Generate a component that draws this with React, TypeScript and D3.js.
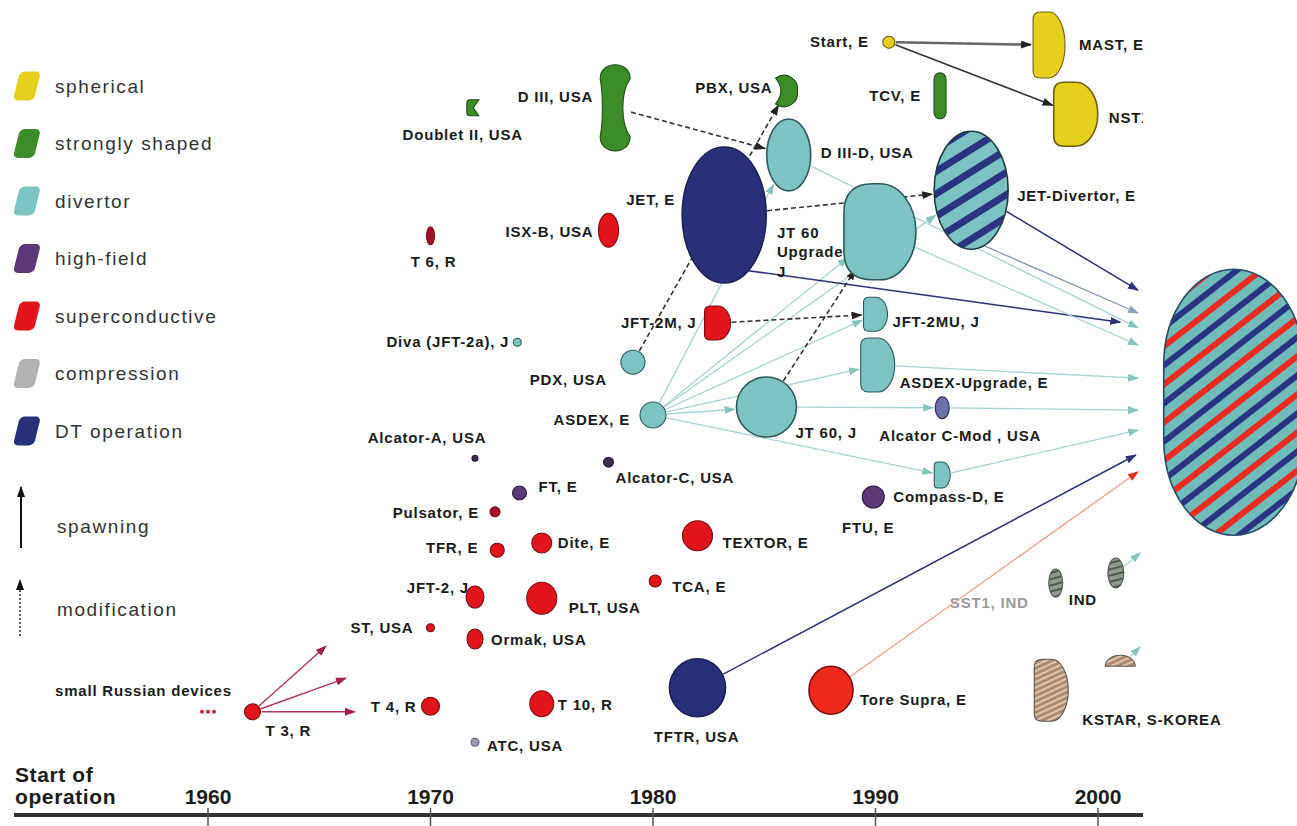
import * as d3 from 'd3'

// device tuples: [id, label, start year, vertical level (0 = time axis, 100 = top)]
type Dev = [string, string, number, number]

const axisYears = [1960, 1970, 1980, 1990, 2000]
const axisTitle = ['Start of', 'operation']

const legendLabels = ['spherical', 'strongly shaped', 'divertor', 'high-field', 'superconductive', 'compression', 'DT operation']
const legendTypes = ['spherical', 'shaped', 'divertor', 'highfield', 'supercond', 'compression', 'dt']

const sphericalDevices: Dev[] = [
  ['start', 'Start, E', 1990.6, 96.6],
  ['mast', 'MAST, E', 1997.8, 96.25],
  ['nstx', 'NSTX, USA', 1999.0, 87.6],
]

const shapedDevices: Dev[] = [
  ['doublet2', 'Doublet II, USA', 1971.9, 88.4],
  ['d3', 'D III, USA', 1978.3, 88.4],
  ['pbx', 'PBX, USA', 1986.0, 90.5],
  ['tcv', 'TCV, E', 1992.9, 89.9],
]

const divertorDevices: Dev[] = [
  ['diva', 'Diva (JFT-2a), J', 1973.9, 59.1],
  ['pdx', 'PDX, USA', 1979.1, 56.6],
  ['asdex', 'ASDEX, E', 1980.0, 50.0],
  ['jt60', 'JT 60, J', 1985.1, 51.0],
  ['d3d', 'D III-D, USA', 1986.1, 82.5],
  ['jt60u', 'JT 60|Upgrade|J', 1990.2, 72.9],
  ['jft2mu', 'JFT-2MU, J', 1990.0, 62.6],
  ['asdexu', 'ASDEX-Upgrade, E', 1990.1, 56.25],
  ['compassd', 'Compass-D, E', 1993.0, 42.5],
]

const highFieldDevices: Dev[] = [
  ['alcA', 'Alcator-A, USA', 1972.0, 44.6],
  ['ft', 'FT,  E', 1974.0, 40.25],
  ['alcC', 'Alcator-C, USA', 1978.0, 44.1],
  ['ftu', 'FTU, E', 1989.9, 39.75],
  ['cmod', 'Alcator C-Mod , USA', 1993.0, 50.9],
]

const redDevices: Dev[] = [
  ['t3', 'T 3, R', 1962.0, 12.9],
  ['t4', 'T 4, R', 1970.0, 13.6],
  ['t6', 'T 6, R', 1970.0, 72.4],
  ['st', 'ST, USA', 1970.0, 23.4],
  ['ormak', 'Ormak, USA', 1972.0, 22.0],
  ['jft2', 'JFT-2, J', 1972.0, 27.25],
  ['pulsator', 'Pulsator, E', 1972.9, 37.9],
  ['tfr', 'TFR, E', 1973.0, 33.1],
  ['dite', 'Dite, E', 1975.0, 34.0],
  ['plt', 'PLT, USA', 1975.0, 27.1],
  ['t10', 'T 10, R', 1975.0, 13.9],
  ['isxb', 'ISX-B, USA', 1978.0, 73.1],
  ['tca', 'TCA, E', 1980.1, 29.25],
  ['textor', 'TEXTOR, E', 1982.0, 34.9],
  ['jft2m', 'JFT-2M, J', 1982.9, 61.5],
  ['toresupra', 'Tore Supra, E', 1988.0, 15.6],
]

const compressionDevices: Dev[] = [
  ['atc', 'ATC, USA', 1972.0, 9.1],
]

const dtDevices: Dev[] = [
  ['tftr', 'TFTR, USA', 1982.0, 15.9],
  ['jet', 'JET, E', 1983.2, 75.0],
  ['jetdiv', 'JET-Divertor, E', 1994.3, 78.1],
]

const newerDevices: Dev[] = [
  ['sst1', 'SST1, IND', 1998.1, 29.0],
  ['kstar', 'KSTAR, S-KOREA', 1997.9, 15.6],
  ['grey2', '', 2000.8, 30.25],
  ['brown2', '', 2001.0, 18.6],
  ['iter', '', 2006.1, 51.6],
  ['russian', 'small Russian devices', 1960.0, 12.9],
]

// spawning (solid) and modification (dashed) links between devices
const spawnLinks: [string, string, string][] = [
  ['start', 'mast', 'grey'],
  ['start', 'nstx', 'dark'],
  ['asdex', 'd3d', 'cyan'],
  ['asdex', 'jt60u', 'cyan'],
  ['asdex', 'jetdiv', 'cyan'],
  ['asdex', 'jft2mu', 'cyan'],
  ['asdex', 'asdexu', 'cyan'],
  ['asdex', 'jt60', 'cyan'],
  ['asdex', 'compassd', 'cyan'],
  ['jt60', 'cmod', 'cyan'],
]

const modLinks: [string, string][] = [
  ['d3', 'd3d'],
  ['pdx', 'pbx'],
  ['jet', 'jetdiv'],
  ['jft2m', 'jft2mu'],
  ['jt60', 'jt60u'],
]

// links ending at a point: [from, year, level, colour, optional exit angle]
const pointLinks: [string, number, number, string, number?][] = [
  ['t3', 1965.3, 21.1, 'maroon'],
  ['t3', 1966.2, 17.1, 'maroon'],
  ['t3', 1966.6, 12.9, 'maroon'],
  ['jetdiv', 2001.8, 65.6, 'navy'],
  ['jetdiv', 2001.8, 62.75, 'slate', 70],
  ['jet', 2001.0, 61.6, 'navy', 55],
  ['d3d', 2001.8, 60.9, 'cyan'],
  ['jt60u', 2001.8, 58.75, 'cyan'],
  ['asdexu', 2001.8, 54.6, 'cyan'],
  ['cmod', 2001.8, 50.6, 'cyan'],
  ['compassd', 2001.8, 48.1, 'cyan'],
  ['tftr', 2001.7, 45.0, 'navy'],
  ['toresupra', 2001.8, 42.9, 'red'],
  ['grey2', 2001.9, 32.75, 'cyan'],
  ['brown2', 2001.9, 21.0, 'cyan'],
]

// ---- layout / style (not data) ----
const shapeLayout: Record<string, [string, number, number]> = {
  start: ['ellipse', 6, 6], mast: ['dee', 16, 33], nstx: ['dee', 22, 32],
  doublet2: ['cshape', 6, 8], d3: ['bone', 15, 44], pbx: ['crescent', 11, 16], tcv: ['pill', 6, 23],
  diva: ['ellipse', 4, 4], pdx: ['ellipse', 12, 12], asdex: ['ellipse', 13, 13], jt60: ['ellipse', 30, 30],
  d3d: ['ellipse', 22, 36], jt60u: ['dee', 36, 48], jft2mu: ['dee', 12, 17], asdexu: ['dee', 17, 27],
  compassd: ['dee', 8, 13],
  alcA: ['ellipse', 3, 3], ft: ['ellipse', 7, 7], alcC: ['ellipse', 5, 5], ftu: ['ellipse', 11, 11],
  cmod: ['ellipse', 7, 11],
  t3: ['ellipse', 8, 8], t4: ['ellipse', 9, 9], t6: ['ellipse', 4, 9], st: ['ellipse', 4, 4],
  ormak: ['ellipse', 8, 10], jft2: ['ellipse', 9, 11], pulsator: ['ellipse', 5, 5], tfr: ['ellipse', 7, 7],
  dite: ['ellipse', 10, 10], plt: ['ellipse', 15, 16], t10: ['ellipse', 12, 13], isxb: ['ellipse', 10, 17],
  tca: ['ellipse', 6, 6], textor: ['ellipse', 15, 15], jft2m: ['dee', 13, 17], toresupra: ['ellipse', 22, 24],
  atc: ['ellipse', 4, 4],
  tftr: ['ellipse', 28, 29], jet: ['ellipse', 42, 68], jetdiv: ['ellipse', 37, 59],
  sst1: ['ellipse', 7, 14], kstar: ['dee', 17, 31], grey2: ['ellipse', 8, 15], brown2: ['cap', 15, 11],
  iter: ['stadium', 70, 133], russian: ['dots', 2, 2],
}

const labelLayout: Record<string, [number, number, string]> = {
  start: [-20, 0, 'end'], mast: [30, 0, 'start'], nstx: [33, 4, 'start'],
  doublet2: [-10, 27, 'middle'], d3: [-22, -11, 'end'], pbx: [-14, -3, 'end'], tcv: [-19, 0, 'end'],
  diva: [-8, 0, 'end'], pdx: [-26, 18, 'end'], asdex: [-23, 5, 'end'], jt60: [29, 26, 'start'],
  d3d: [32, -2, 'start'], jt60u: [-103, 1, 'start'], jft2mu: [17, 8, 'start'], asdexu: [22, 18, 'start'],
  compassd: [-49, 22, 'start'],
  alcA: [-48, -20, 'middle'], ft: [19, -6, 'start'], alcC: [7, 16, 'start'], ftu: [-5, 31, 'middle'],
  cmod: [-63, 28, 'start'],
  t3: [13, 19, 'start'], t4: [-14, 1, 'end'], t6: [3, 26, 'middle'], st: [-17, 0, 'end'],
  ormak: [16, 1, 'start'], jft2: [-6, -9, 'end'], pulsator: [-16, 1, 'end'], tfr: [-19, -2, 'end'],
  dite: [16, 0, 'start'], plt: [27, 10, 'start'], t10: [16, 1, 'start'], isxb: [-15, 2, 'end'],
  tca: [17, 6, 'start'], textor: [25, 7, 'start'], jft2m: [-21, 0, 'end'], toresupra: [29, 10, 'start'],
  atc: [12, 4, 'start'],
  tftr: [-1, 49, 'middle'], jet: [-49, -15, 'end'], jetdiv: [46, 6, 'start'],
  sst1: [-27, 20, 'end'], kstar: [31, 30, 'start'], russian: [-153, -21, 'start'],
}

const typeFill: Record<string, string> = {
  spherical: '#e6d01e', shaped: '#3d8c2a', divertor: '#7dc3c2', highfield: '#5b3977',
  supercond: '#e2141c', compression: '#b2b2b2', dt: '#283079', newer: '#a0a0a0',
}
const typeStroke: Record<string, string> = {
  spherical: '#6e6010', shaped: '#1f4d14', divertor: '#2c5a5c', highfield: '#2e1a40',
  supercond: '#7a0a12', compression: '#666', dt: '#1a1f55', newer: '#555',
}
const fillOverride: Record<string, string> = {
  jetdiv: 'url(#jetdivPat)', iter: 'url(#iterPat)', kstar: 'url(#kstarPat)', brown2: 'url(#kstarPat)',
  sst1: 'url(#sstPat)', grey2: 'url(#sstPat)', cmod: '#6a72aa', atc: '#9c96b2', pulsator: '#a3102e',
  t6: '#a3102e', alcA: '#3d2c50', alcC: '#3d2c50', toresupra: '#ee2a1c', russian: '#c8203a',
}
const linkColors: Record<string, [string, string, number]> = {
  cyan: ['#a6d4d3', '#88c3c1', 1.3], navy: ['#2b3178', '#2b3178', 1.5], slate: ['#8096b4', '#8aa4c4', 1.3],
  dark: ['#333', '#222', 1.6], grey: ['#666', '#222', 2.6], maroon: ['#b3365c', '#a11d4c', 1.4],
  red: ['#eda088', '#e5301f', 1.3], black: ['#111', '#111', 2],
}

const groups: [Dev[], string][] = [
  [sphericalDevices, 'spherical'], [shapedDevices, 'shaped'], [divertorDevices, 'divertor'],
  [highFieldDevices, 'highfield'], [redDevices, 'supercond'], [compressionDevices, 'compression'],
  [dtDevices, 'dt'], [newerDevices, 'newer'],
]

function shapeElement(shape: string, rx: number, ry: number, props: any, round = 0.45) {
  if (shape === 'ellipse') return <ellipse rx={rx} ry={ry} {...props} />
  if (shape === 'pill') return <rect x={-rx} y={-ry} width={2 * rx} height={2 * ry} rx={rx} {...props} />
  if (shape === 'stadium') return <rect x={-rx} y={-ry} width={2 * rx} height={2 * ry} rx={rx} ry={ry * 0.72} {...props} />
  if (shape === 'dots') return <g fill={props.fill}>{[-6, 0, 6].map(o => <circle key={o} cx={o} r={rx} />)}</g>
  let d = ''
  if (shape === 'dee') {
    const r = Math.min(rx, ry) * round
    d = `M${-rx},${-ry + r} Q${-rx},${-ry} ${-rx + r},${-ry} L0,${-ry} A${rx},${ry} 0 0 1 0,${ry} L${-rx + r},${ry} Q${-rx},${ry} ${-rx},${ry - r} Z`
  } else if (shape === 'bone') {
    d = `M${-rx},${-ry + rx} C${-rx},${-ry - rx * 0.25} ${rx},${-ry - rx * 0.25} ${rx},${-ry + rx}` +
      ` C${rx * 0.35},${-ry * 0.35} ${rx * 0.35},${ry * 0.35} ${rx},${ry - rx}` +
      ` C${rx},${ry + rx * 0.25} ${-rx},${ry + rx * 0.25} ${-rx},${ry - rx}` +
      ` C${-rx * 0.8},${ry * 0.3} ${-rx * 0.8},${-ry * 0.3} ${-rx},${-ry + rx} Z`
  } else if (shape === 'crescent') {
    d = `M${-rx},${-ry * 0.8} C${0},${-ry * 1.3} ${rx * 1.15},${-ry * 0.7} ${rx},0` +
      ` C${rx * 1.15},${ry * 0.7} ${0},${ry * 1.3} ${-rx},${ry * 0.8}` +
      ` C${-rx * 0.35},${ry * 0.3} ${-rx * 0.35},${-ry * 0.3} ${-rx},${-ry * 0.8} Z`
  } else if (shape === 'cshape') {
    d = `M${rx},${-ry} L${-rx * 0.5},${-ry} Q${-rx},${-ry} ${-rx},${-ry * 0.5} L${-rx},${ry * 0.5} Q${-rx},${ry} ${-rx * 0.5},${ry} L${rx},${ry} L${rx * 0.1},0 Z`
  } else if (shape === 'cap') {
    d = `M${-rx},0 A${rx},${ry} 0 0 1 ${rx},0 Z`
  }
  return <path d={d} {...props} />
}

export default function App() {
  const x = d3.scaleLinear().domain([1960, 2000]).range([208, 1098])
  const y = d3.scaleLinear().domain([0, 100]).range([815, 15])

  const devices = groups.flatMap(([list, type]) =>
    list.map(([id, label, year, level]) => ({ id, label, type, cx: x(year), cy: y(level) })))
  const byId: Record<string, any> = {}
  devices.forEach(d => { byId[d.id] = d })

  const edge = (id: string, tx: number, ty: number, pad = 1) => {
    const d = byId[id]
    const [, rx, ry] = shapeLayout[id]
    const dx = tx - d.cx, dy = ty - d.cy
    const t = 1 / Math.sqrt((dx / (rx + pad)) ** 2 + (dy / (ry + pad)) ** 2)
    return [d.cx + dx * t, d.cy + dy * t]
  }
  const angleEdge = (id: string, deg: number) => {
    const d = byId[id]
    const [, rx, ry] = shapeLayout[id]
    const a = (deg * Math.PI) / 180
    return [d.cx + rx * Math.cos(a), d.cy + ry * Math.sin(a)]
  }

  const links: { x1: number, y1: number, x2: number, y2: number, color: string, dashed: boolean }[] = []
  spawnLinks.forEach(([a, b, color]) => {
    const [x1, y1] = edge(a, byId[b].cx, byId[b].cy)
    const [x2, y2] = edge(b, byId[a].cx, byId[a].cy, 2)
    links.push({ x1, y1, x2, y2, color, dashed: false })
  })
  modLinks.forEach(([a, b]) => {
    const [x1, y1] = edge(a, byId[b].cx, byId[b].cy)
    const [x2, y2] = edge(b, byId[a].cx, byId[a].cy, 2)
    links.push({ x1, y1, x2, y2, color: 'dark', dashed: true })
  })
  pointLinks.forEach(([a, yr, lv, color, ang]) => {
    const x2 = x(yr), y2 = y(lv)
    const [x1, y1] = ang !== undefined ? angleEdge(a, ang) : edge(a, x2, y2)
    links.push({ x1, y1, x2, y2, color, dashed: false })
  })

  const font = "'Liberation Sans', Arial, Helvetica, sans-serif"

  return (
    <svg width={1297} height={826} style={{ position: 'absolute', left: 0, top: 0, background: '#fff' }} fontFamily={font}>
      <defs>
        {Object.entries(linkColors).map(([k, [, head]]) => (
          <marker key={k} id={`arr-${k}`} markerUnits="userSpaceOnUse" markerWidth={11} markerHeight={8}
            refX={10} refY={4} orient="auto">
            <path d="M0,0 L11,4 L0,8 Z" fill={head} />
          </marker>
        ))}
        <pattern id="jetdivPat" patternUnits="userSpaceOnUse" width={40} height={19} patternTransform="rotate(-32)">
          <rect width={40} height={19} fill="#7cc2c2" />
          <rect width={40} height={7} fill="#2a3480" />
        </pattern>
        <pattern id="iterPat" patternUnits="userSpaceOnUse" width={40} height={30} patternTransform="rotate(-38)">
          <rect width={40} height={30} fill="#6fbcbb" />
          <rect width={40} height={6} fill="#ec2c20" />
          <rect y={15} width={40} height={6} fill="#2a3482" />
        </pattern>
        <pattern id="kstarPat" patternUnits="userSpaceOnUse" width={10} height={5} patternTransform="rotate(-25)">
          <rect width={10} height={5} fill="#ad8a72" />
          <rect width={10} height={2} fill="#dcc6b0" />
        </pattern>
        <pattern id="sstPat" patternUnits="userSpaceOnUse" width={10} height={6} patternTransform="rotate(-15)">
          <rect width={10} height={6} fill="#8e9a8c" />
          <rect width={10} height={2} fill="#4c5a4e" />
        </pattern>
        <clipPath id="nstxClip"><rect x={0} y={0} width={1143} height={826} /></clipPath>
      </defs>

      {/* legend */}
      <g>
        {legendLabels.map((lab, i) => {
          const ly = 86 + i * 57.5
          return (
            <g key={lab}>
              <rect x={0} y={0} width={21} height={29} rx={5}
                transform={`translate(20,${ly - 14.5}) skewX(-14)`}
                fill={typeFill[legendTypes[i]]} />
              <text x={55} y={ly + 6.5} fontSize={19} letterSpacing={1.6} fill="#333">{lab}</text>
            </g>
          )
        })}
        <line x1={21} y1={548} x2={21} y2={487} stroke="#111" strokeWidth={2} markerEnd="url(#arr-black)" />
        <text x={57} y={533} fontSize={19} letterSpacing={1.6} fill="#333">spawning</text>
        <line x1={20} y1={636} x2={20} y2={580} stroke="#333" strokeWidth={1.6} strokeDasharray="2 2" markerEnd="url(#arr-black)" />
        <text x={57} y={616} fontSize={19} letterSpacing={1.6} fill="#333">modification</text>
      </g>

      {/* links */}
      <g>
        {links.map((l, i) => {
          const [stroke, , w] = linkColors[l.color]
          return (
            <line key={i} x1={l.x1} y1={l.y1} x2={l.x2} y2={l.y2} stroke={stroke} strokeWidth={w}
              strokeDasharray={l.dashed ? '5 3' : undefined} markerEnd={`url(#arr-${l.color})`} />
          )
        })}
      </g>

      {/* devices */}
      <g>
        {devices.map(d => {
          const [shape, rx, ry] = shapeLayout[d.id]
          const fill = fillOverride[d.id] || typeFill[d.type]
          const stroke = d.id === 'iter' ? '#2a4a6a' : d.id === 'jetdiv' ? '#1d3c3e' : typeStroke[d.type]
          return (
            <g key={d.id} transform={`translate(${d.cx},${d.cy})`}>
              {shapeElement(shape, rx, ry, { fill, stroke, strokeWidth: rx > 20 ? 1.6 : 1.1 }, d.id === 'jt60u' ? 0.8 : 0.45)}
            </g>
          )
        })}
      </g>

      {/* labels */}
      <g fontSize={15} fontWeight="bold" fill="#1b1b1b" letterSpacing={0.8}>
        {devices.filter(d => d.label && labelLayout[d.id]).map(d => {
          const [dx, dy, anchor] = labelLayout[d.id]
          const lines = d.label.split('|')
          return (
            <text key={d.id} x={d.cx + dx} y={d.cy + dy + 5} textAnchor={anchor}
              fill={d.id === 'sst1' ? '#9a9a9a' : undefined}
              clipPath={d.id === 'nstx' ? 'url(#nstxClip)' : undefined}>
              {lines.map((ln, i) => (
                <tspan key={i} x={d.cx + dx} dy={i === 0 ? 0 : 19.5}>{ln}</tspan>
              ))}
            </text>
          )
        })}
        <text x={byId.sst1.cx + 13} y={byId.sst1.cy + 22}>IND</text>
      </g>

      {/* time axis */}
      <g>
        <line x1={14} x2={1143} y1={815} y2={815} stroke="#333" strokeWidth={4} />
        {axisYears.map(yr => (
          <g key={yr}>
            <line x1={x(yr)} x2={x(yr)} y1={808} y2={826} stroke="#555" strokeWidth={1.5} />
            <text x={x(yr)} y={804} textAnchor="middle" fontSize={21} fontWeight="bold" fill="#1b1b1b">{yr}</text>
          </g>
        ))}
        {axisTitle.map((t, i) => (
          <text key={t} x={15} y={782 + i * 22} fontSize={21} fontWeight="bold" letterSpacing={0.6} fill="#1b1b1b">{t}</text>
        ))}
      </g>
    </svg>
  )
}
